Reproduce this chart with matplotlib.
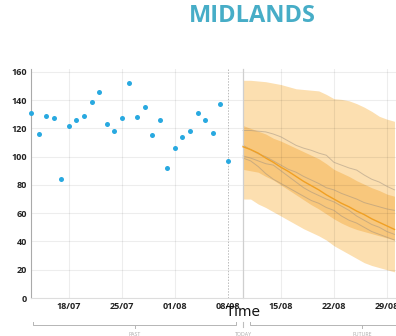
import numpy as np
import pandas as pd
import matplotlib
matplotlib.use("Agg")
import matplotlib.pyplot as plt
import matplotlib.dates as mdates

plt.rcParams['font.family'] = ['Open Sans', 'DejaVu Sans']

# ==============================
# Data
# ==============================
past_start = "2020-07-13"
past_values = [131, 116, 129, 127, 84, 122, 126, 129, 139, 146, 123, 118, 127, 152,
               128, 135, 115, 126, 92, 106, 114, 118, 131, 126, 117, 137, 97]
today = "2020-08-10"

# forecast bands, one value per day from today
median   = [107, 105, 102.5, 99, 96, 92.5, 89.5, 86, 82.5, 79.5, 76.5, 73, 70, 67, 64.5,
            61.5, 59, 56, 53.5, 51, 48.5]
inner_hi = [122, 120, 118, 116, 113, 111, 108.5, 106, 103.5, 101, 98.5, 95, 91, 88.5, 86,
            83, 80.5, 78, 76, 73.5, 72]
inner_lo = [91, 90, 89, 86, 83.5, 80, 76.5, 73, 69.5, 66, 63, 59.5, 56, 53, 50.5,
            48.5, 47, 45.5, 44, 42.5, 41]
outer_hi = [154, 154, 153.5, 153, 152, 151, 149.5, 148, 147.5, 147, 146.5, 144, 141, 140.5,
            139.5, 137.5, 135, 132, 128.5, 126.5, 125]
outer_lo = [70, 70, 66.5, 64, 61, 58, 55, 52, 49, 46.5, 44, 41, 37, 34, 31, 28, 25, 23,
            21.5, 20, 18.5]
# a few sample trajectories
samples = [
    [118.5, 118.5, 118, 117.5, 116, 114, 111, 108, 106, 104.5, 102.5, 101, 96, 94, 92,
     90.5, 87, 84, 82, 79, 76.5],
    [108, 105, 102, 100, 97, 94, 91, 89, 86, 83.5, 81, 78, 76.5, 74, 72, 70, 67.5, 66,
     64.5, 63, 62],
    [100.5, 99, 97, 95, 94, 90, 86, 82, 78, 75, 72.5, 70, 68, 65, 62, 58, 55, 52, 50, 47, 45],
    [99, 97, 93, 88, 84, 81, 78, 75, 72, 69, 67, 64, 62, 58, 55, 53, 50, 47, 45, 43, 41],
]
week_ticks = ["2020-07-18", "2020-07-25", "2020-08-01", "2020-08-08",
              "2020-08-15", "2020-08-22", "2020-08-29"]

past_dates = pd.date_range(past_start, periods=len(past_values), freq="D")
future_dates = pd.date_range(today, periods=len(median), freq="D")
ticks = pd.to_datetime(week_ticks)
today_dt = pd.Timestamp(today)

# ==============================
# Plot
# ==============================
fig = plt.figure(figsize=(3.96, 3.36), dpi=100)
ax = fig.add_axes([31 / 396, 38 / 336, 1 - 31 / 396, 229 / 336])

light_band = "#fcdfb0"
mid_band = "#f8c77c"
ax.fill_between(future_dates, outer_lo, outer_hi, color=light_band, lw=0, zorder=1)
ax.fill_between(future_dates, inner_lo, inner_hi, color=mid_band, lw=0, zorder=1.1)
for s in samples:
    ax.plot(future_dates, s, color="#9e9080", lw=0.7, alpha=0.5, zorder=2)
ax.plot(future_dates, median, color="#f0a024", lw=1.0, zorder=2.5)

ax.scatter(past_dates, past_values, s=13, color="#29a9e0", lw=0, zorder=3, clip_on=False)

# grid
for v in range(0, 161, 20):
    ax.axhline(v, color="#000000", alpha=0.07, lw=0.8, zorder=1.5)
for t in ticks:
    if t == pd.Timestamp("2020-08-08"):
        ax.axvline(t, color="#bbbbbb", lw=0.7, ls=(0, (1.5, 1.5)), zorder=1.5)
    else:
        ax.axvline(t, color="#000000", alpha=0.07, lw=0.8, zorder=1.5)

# today marker
ax.plot([today_dt, today_dt], [0, 1.0], transform=ax.get_xaxis_transform(),
        color="#cfcfcf", lw=0.9, zorder=2, clip_on=False)
ax.plot([today_dt, today_dt], [-0.105, -0.125], transform=ax.get_xaxis_transform(),
        color="#bdbdbd", lw=0.8, zorder=2, clip_on=False)

ax.set_xlim(pd.Timestamp(past_start), pd.Timestamp(past_start) + pd.Timedelta(days=48.2))
ax.set_ylim(0, 162)
ax.set_yticks(range(0, 161, 20))
ax.set_xticks(ticks)
ax.xaxis.set_major_formatter(mdates.DateFormatter("%d/%m"))
ax.tick_params(axis="both", length=0, labelsize=6.5, labelcolor="#222222")
ax.tick_params(axis="x", pad=3)
ax.tick_params(axis="y", pad=3)
for lab in ax.get_xticklabels() + ax.get_yticklabels():
    lab.set_fontweight("bold")

for side in ["top", "right"]:
    ax.spines[side].set_visible(False)
ax.spines["left"].set_color("#aaaaaa")
ax.spines["left"].set_linewidth(0.8)
ax.spines["bottom"].set_color("#dddddd")
ax.spines["bottom"].set_linewidth(0.8)

ax.text(today_dt, -0.063, "Time", transform=ax.get_xaxis_transform(),
        ha="center", va="center", fontsize=10, color="#111111", family="DejaVu Sans")


# brackets under the axis
def bracket(x0, x1, label):
    tr = ax.get_xaxis_transform()
    xm = x0 + (x1 - x0) / 2
    y = -0.118
    ax.plot([x0, x0, x1, x1], [y + 0.014, y, y, y + 0.014], transform=tr,
            color="#b5b5b5", lw=0.7, clip_on=False)
    ax.plot([xm, xm], [y, y - 0.014], transform=tr, color="#b5b5b5", lw=0.7, clip_on=False)
    ax.text(xm, y - 0.04, label, transform=tr, ha="center", va="center",
            fontsize=3.8, color="#aaaaaa")


bracket(pd.Timestamp(past_start) + pd.Timedelta(days=0.3),
        pd.Timestamp("2020-08-09") + pd.Timedelta(hours=2), "PAST")
bracket(today_dt + pd.Timedelta(days=0.9),
        pd.Timestamp(past_start) + pd.Timedelta(days=58.5), "FUTURE")
ax.text(today_dt, -0.158, "TODAY", transform=ax.get_xaxis_transform(), ha="center",
        va="center", fontsize=3.8, color="#aaaaaa")

fig.text(252 / 396, 1 - 16 / 336, "MIDLANDS", ha="center", va="center",
         fontsize=17, fontweight="bold", color="#47adc7")

fig.savefig("out.png", dpi=100)
